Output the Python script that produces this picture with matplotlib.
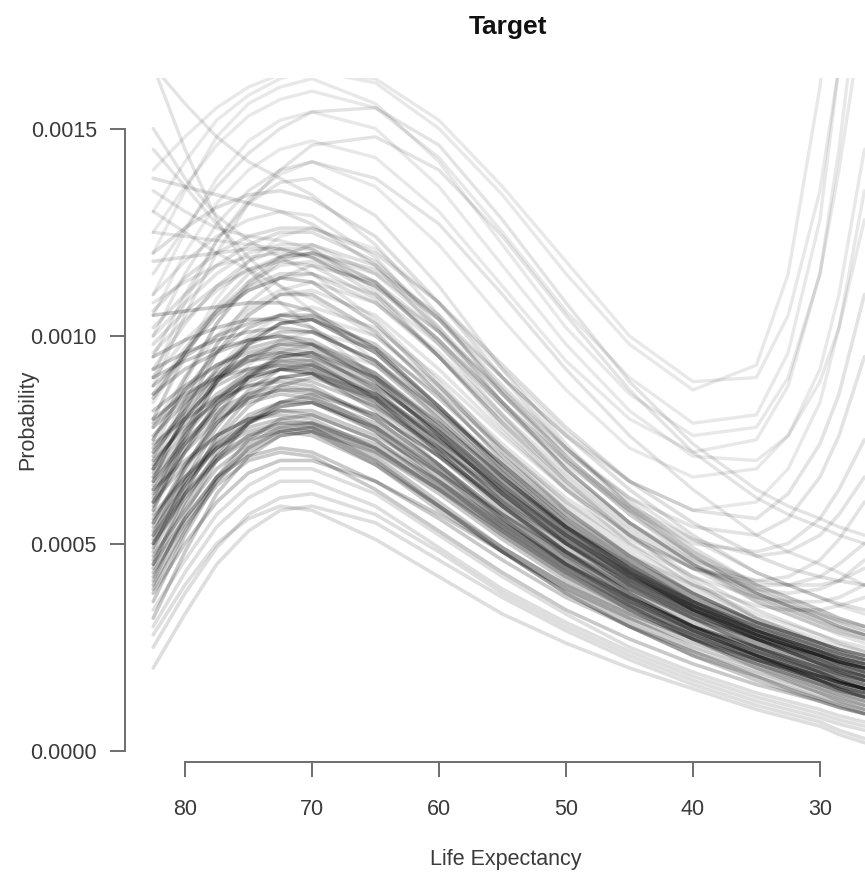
import matplotlib
matplotlib.use("Agg")
import matplotlib.pyplot as plt
import numpy as np

# ---------------- data ----------------
# life-expectancy nodes at which each curve was read
life_exp = [82.5, 80, 77.5, 75, 72.5, 70, 65, 60, 55, 50, 45, 40, 35, 32.5, 30, 28.5, 26.5]

# probability values, in units of 1e-4
core_curves = [
    [4.2, 5.6, 6.6, 7.1, 7.3, 7.2, 6.5, 5.6, 4.6, 3.7, 3.0, 2.4, 1.9, 1.65, 1.4, 1.25, 1.1],
    [5.0, 6.2, 7.1, 7.6, 7.8, 7.7, 6.9, 5.8, 4.8, 3.9, 3.2, 2.6, 2.1, 1.85, 1.6, 1.45, 1.3],
    [3.6, 5.2, 6.5, 7.3, 7.7, 7.8, 7.1, 6.0, 4.9, 4.0, 3.2, 2.5, 2.0, 1.75, 1.5, 1.35, 1.2],
    [6.0, 6.9, 7.6, 8.0, 8.1, 8.0, 7.3, 6.3, 5.2, 4.2, 3.4, 2.8, 2.3, 2.05, 1.8, 1.65, 1.5],
    [4.8, 6.3, 7.4, 8.1, 8.4, 8.4, 7.7, 6.6, 5.4, 4.4, 3.5, 2.8, 2.2, 1.95, 1.7, 1.55, 1.4],
    [5.5, 6.9, 7.9, 8.5, 8.7, 8.6, 7.8, 6.7, 5.5, 4.5, 3.7, 3.0, 2.4, 2.15, 1.9, 1.7, 1.5],
    [7.0, 7.8, 8.4, 8.8, 8.9, 8.8, 8.0, 6.9, 5.7, 4.6, 3.7, 3.0, 2.5, 2.25, 2.0, 1.85, 1.7],
    [4.5, 6.2, 7.6, 8.5, 9.0, 9.1, 8.4, 7.2, 5.9, 4.8, 3.9, 3.1, 2.5, 2.25, 2.0, 1.8, 1.6],
    [6.3, 7.4, 8.3, 8.9, 9.2, 9.2, 8.5, 7.3, 6.0, 4.9, 4.0, 3.3, 2.7, 2.4, 2.1, 1.95, 1.8],
    [8.0, 8.6, 9.0, 9.2, 9.3, 9.2, 8.4, 7.2, 5.9, 4.8, 3.9, 3.2, 2.6, 2.35, 2.1, 1.95, 1.8],
    [5.2, 6.8, 8.1, 9.0, 9.5, 9.6, 8.9, 7.6, 6.2, 5.0, 4.1, 3.3, 2.6, 2.3, 2.0, 1.8, 1.6],
    [6.8, 8.0, 8.9, 9.5, 9.8, 9.8, 9.0, 7.7, 6.3, 5.1, 4.1, 3.3, 2.7, 2.45, 2.2, 2.05, 1.9],
    [9.0, 9.4, 9.7, 9.9, 10.0, 9.9, 9.1, 7.8, 6.4, 5.2, 4.2, 3.4, 2.8, 2.55, 2.3, 2.15, 2.0],
    [5.8, 7.5, 8.9, 9.8, 10.3, 10.4, 9.6, 8.2, 6.7, 5.4, 4.4, 3.5, 2.8, 2.5, 2.2, 2.0, 1.8],
    [7.5, 8.7, 9.6, 10.2, 10.5, 10.5, 9.7, 8.3, 6.8, 5.5, 4.5, 3.6, 2.9, 2.65, 2.4, 2.2, 2.0],
    [10.5, 10.6, 10.7, 10.8, 10.8, 10.6, 9.7, 8.3, 6.8, 5.5, 4.4, 3.5, 2.9, 2.65, 2.4, 2.25, 2.1],
    [6.5, 8.2, 9.6, 10.5, 11.0, 11.0, 10.1, 8.6, 7.0, 5.7, 4.6, 3.7, 3.0, 2.7, 2.4, 2.2, 2.0],
    [8.5, 9.6, 10.5, 11.1, 11.4, 11.3, 10.3, 8.8, 7.2, 5.8, 4.7, 3.8, 3.1, 2.85, 2.6, 2.45, 2.3],
    [4.0, 5.4, 6.4, 7.0, 7.2, 7.1, 6.3, 5.3, 4.3, 3.4, 2.7, 2.1, 1.6, 1.4, 1.2, 1.05, 0.9],
    [5.4, 6.5, 7.3, 7.8, 8.0, 7.9, 7.2, 6.2, 5.1, 4.1, 3.3, 2.7, 2.2, 1.95, 1.7, 1.55, 1.4],
    [3.2, 4.8, 6.2, 7.1, 7.6, 7.7, 7.0, 5.9, 4.8, 3.8, 3.0, 2.3, 1.8, 1.55, 1.3, 1.15, 1.0],
    [6.6, 7.5, 8.2, 8.6, 8.8, 8.7, 8.0, 6.9, 5.7, 4.7, 3.9, 3.2, 2.7, 2.5, 2.3, 2.15, 2.0],
    [4.6, 6.0, 7.2, 8.0, 8.4, 8.5, 7.9, 6.8, 5.6, 4.5, 3.6, 2.9, 2.3, 2.05, 1.8, 1.65, 1.5],
    [7.3, 8.2, 9.0, 9.5, 9.7, 9.6, 8.7, 7.4, 6.0, 4.8, 3.8, 3.0, 2.4, 2.15, 1.9, 1.7, 1.5],
    [5.9, 7.2, 8.3, 9.0, 9.4, 9.4, 8.7, 7.5, 6.2, 5.1, 4.2, 3.5, 2.9, 2.65, 2.4, 2.25, 2.1],
    [8.2, 8.8, 9.3, 9.6, 9.8, 9.7, 9.0, 7.8, 6.5, 5.3, 4.3, 3.5, 2.8, 2.55, 2.3, 2.1, 1.9],
    [4.9, 6.5, 7.8, 8.7, 9.2, 9.3, 8.6, 7.4, 6.1, 5.0, 4.0, 3.2, 2.5, 2.2, 1.9, 1.7, 1.5],
    [6.2, 7.2, 8.0, 8.4, 8.6, 8.5, 7.7, 6.5, 5.3, 4.3, 3.5, 2.8, 2.2, 1.95, 1.7, 1.5, 1.3],
    [5.6, 6.6, 7.4, 7.9, 8.2, 8.2, 7.6, 6.7, 5.7, 4.8, 4.0, 3.3, 2.7, 2.45, 2.2, 2.0, 1.8],
    [7.8, 8.5, 9.1, 9.5, 9.6, 9.5, 8.8, 7.7, 6.4, 5.2, 4.2, 3.4, 2.8, 2.55, 2.3, 2.15, 2.0],
    [6.9, 7.9, 8.6, 9.1, 9.3, 9.3, 8.6, 7.5, 6.3, 5.2, 4.3, 3.6, 3.0, 2.75, 2.5, 2.35, 2.2],
    [5.3, 6.4, 7.3, 7.9, 8.3, 8.4, 7.8, 6.8, 5.6, 4.6, 3.7, 3.0, 2.4, 2.15, 1.9, 1.75, 1.6],
    [7.6, 8.4, 9.0, 9.4, 9.5, 9.4, 8.5, 7.2, 5.9, 4.7, 3.7, 2.9, 2.3, 2.0, 1.7, 1.55, 1.4],
    [4.4, 5.9, 7.1, 7.9, 8.3, 8.4, 7.8, 6.7, 5.5, 4.5, 3.7, 3.0, 2.5, 2.25, 2.0, 1.85, 1.7],
    [9.5, 9.9, 10.2, 10.4, 10.4, 10.2, 9.3, 8.0, 6.6, 5.3, 4.3, 3.4, 2.7, 2.4, 2.1, 1.9, 1.7],
    [6.1, 7.7, 9.0, 9.9, 10.3, 10.4, 9.8, 8.5, 7.1, 5.8, 4.7, 3.8, 3.1, 2.8, 2.5, 2.3, 2.1],
    [3.8, 5.0, 6.0, 6.7, 7.0, 7.0, 6.5, 5.7, 4.8, 3.9, 3.1, 2.4, 1.8, 1.5, 1.25, 1.1, 0.9],
    [5.7, 6.6, 7.3, 7.7, 7.9, 7.8, 7.0, 5.9, 4.8, 3.8, 3.0, 2.3, 1.7, 1.45, 1.2, 1.05, 0.9],
    [6.4, 7.6, 8.5, 9.0, 9.2, 9.1, 8.2, 6.9, 5.6, 4.5, 3.6, 2.9, 2.3, 2.05, 1.8, 1.65, 1.5],
    [4.1, 5.7, 7.0, 7.9, 8.4, 8.6, 8.1, 7.1, 5.9, 4.8, 3.8, 3.0, 2.3, 2.0, 1.7, 1.5, 1.3],
    [7.2, 8.1, 8.8, 9.2, 9.4, 9.3, 8.5, 7.3, 6.1, 5.0, 4.1, 3.4, 2.8, 2.55, 2.3, 2.15, 2.0],
    [5.1, 6.4, 7.5, 8.3, 8.8, 9.0, 8.5, 7.5, 6.3, 5.2, 4.2, 3.4, 2.7, 2.4, 2.1, 1.9, 1.7],
    [8.6, 9.2, 9.6, 9.9, 10.0, 9.8, 8.9, 7.6, 6.2, 5.0, 4.0, 3.2, 2.5, 2.2, 1.9, 1.7, 1.5],
    [6.0, 7.3, 8.4, 9.1, 9.5, 9.6, 9.0, 7.9, 6.6, 5.4, 4.4, 3.6, 3.0, 2.75, 2.5, 2.35, 2.2],
    [4.3, 5.5, 6.5, 7.2, 7.6, 7.7, 7.2, 6.3, 5.3, 4.3, 3.5, 2.8, 2.2, 1.9, 1.6, 1.4, 1.2],
    [6.7, 7.7, 8.5, 9.0, 9.2, 9.1, 8.3, 7.1, 5.8, 4.7, 3.8, 3.0, 2.4, 2.1, 1.8, 1.6, 1.4],
    [5.5, 6.8, 7.9, 8.6, 9.0, 9.1, 8.6, 7.6, 6.4, 5.3, 4.3, 3.5, 2.8, 2.5, 2.2, 2.0, 1.8],
    [7.9, 8.7, 9.3, 9.7, 9.9, 9.8, 9.1, 7.9, 6.6, 5.4, 4.4, 3.6, 2.9, 2.6, 2.3, 2.1, 1.9],
    [3.9, 5.3, 6.6, 7.5, 8.0, 8.1, 7.5, 6.4, 5.3, 4.3, 3.4, 2.7, 2.1, 1.8, 1.5, 1.3, 1.1],
    [6.5, 7.4, 8.1, 8.5, 8.7, 8.7, 8.1, 7.1, 6.0, 5.0, 4.1, 3.4, 2.8, 2.55, 2.3, 2.15, 2.0],
    [9.2, 9.6, 9.9, 10.1, 10.2, 10.1, 9.4, 8.2, 6.9, 5.6, 4.5, 3.6, 2.9, 2.6, 2.3, 2.1, 1.9],
    [5.0, 6.1, 7.0, 7.6, 7.9, 7.9, 7.3, 6.3, 5.2, 4.2, 3.4, 2.7, 2.1, 1.85, 1.6, 1.45, 1.3],
    [7.1, 8.3, 9.2, 9.8, 10.1, 10.1, 9.4, 8.1, 6.7, 5.4, 4.3, 3.4, 2.7, 2.4, 2.1, 1.9, 1.7],
    [4.7, 5.8, 6.8, 7.4, 7.8, 7.9, 7.4, 6.5, 5.5, 4.5, 3.6, 2.9, 2.3, 2.05, 1.8, 1.65, 1.5],
    [6.3, 7.0, 7.6, 8.0, 8.2, 8.1, 7.5, 6.5, 5.4, 4.4, 3.6, 2.9, 2.3, 2.0, 1.7, 1.5, 1.3],
    [8.8, 9.5, 10.0, 10.3, 10.5, 10.4, 9.6, 8.3, 6.9, 5.6, 4.6, 3.8, 3.1, 2.85, 2.6, 2.45, 2.3],
    [5.2, 6.2, 7.0, 7.5, 7.7, 7.6, 6.9, 5.9, 4.9, 4.0, 3.3, 2.7, 2.2, 2.0, 1.8, 1.65, 1.5],
    [7.4, 8.0, 8.5, 8.8, 9.0, 8.9, 8.3, 7.3, 6.2, 5.1, 4.2, 3.5, 2.9, 2.65, 2.4, 2.25, 2.1],
    [4.5, 5.6, 6.6, 7.3, 7.7, 7.8, 7.3, 6.4, 5.4, 4.4, 3.5, 2.7, 2.0, 1.7, 1.4, 1.2, 1.0],
    [6.8, 8.0, 8.9, 9.4, 9.6, 9.5, 8.8, 7.7, 6.5, 5.4, 4.5, 3.7, 3.1, 2.85, 2.6, 2.45, 2.3],
]

mid_curves = [
    [8.0, 9.5, 10.7, 11.5, 11.9, 12.0, 11.3, 9.9, 8.3, 6.8, 5.5, 4.5, 3.7, 3.4, 3.1, 2.95, 2.8],
    [9.8, 10.6, 11.2, 11.6, 11.8, 11.7, 10.9, 9.5, 7.9, 6.4, 5.2, 4.2, 3.4, 3.1, 2.8, 2.6, 2.4],
    [7.2, 8.9, 10.3, 11.3, 11.9, 12.2, 11.7, 10.4, 8.8, 7.3, 6.0, 4.9, 4.0, 3.7, 3.4, 3.2, 3.0],
    [11.8, 11.9, 12.0, 12.1, 12.1, 11.9, 11.0, 9.5, 7.9, 6.5, 5.3, 4.4, 3.6, 3.3, 3.0, 2.85, 2.7],
    [6.8, 8.4, 9.8, 10.8, 11.4, 11.7, 11.3, 10.1, 8.6, 7.1, 5.8, 4.7, 3.8, 3.5, 3.2, 3.0, 2.8],
    [10.2, 11.0, 11.7, 12.2, 12.5, 12.5, 11.8, 10.4, 8.7, 7.1, 5.8, 4.7, 3.8, 3.5, 3.2, 3.0, 2.8],
    [8.6, 9.7, 10.6, 11.2, 11.5, 11.5, 10.8, 9.5, 8.0, 6.6, 5.4, 4.5, 3.8, 3.5, 3.3, 3.15, 3.0],
    [12.0, 12.6, 13.1, 13.4, 13.5, 13.3, 12.4, 10.8, 9.0, 7.3, 5.9, 4.8, 4.0, 3.7, 3.4, 3.2, 3.0],
    [7.5, 9.0, 10.3, 11.2, 11.8, 12.0, 11.6, 10.5, 9.0, 7.6, 6.3, 5.2, 4.3, 4.0, 3.7, 3.55, 3.4],
    [9.2, 10.3, 11.2, 11.8, 12.1, 12.1, 11.3, 9.8, 8.1, 6.5, 5.2, 4.1, 3.2, 2.9, 2.6, 2.4, 2.2],
    [13.8, 13.6, 13.4, 13.2, 13.0, 12.7, 11.7, 10.1, 8.4, 6.8, 5.5, 4.5, 3.7, 3.4, 3.1, 2.9, 2.7],
    [10.6, 11.4, 12.0, 12.4, 12.6, 12.6, 12.0, 10.8, 9.3, 7.8, 6.5, 5.5, 4.7, 4.4, 4.2, 4.1, 4.0],
]

lower_curves = [
    [2.0, 3.3, 4.5, 5.3, 5.8, 5.9, 5.5, 4.6, 3.7, 2.9, 2.2, 1.6, 1.1, 0.9, 0.7, 0.5, 0.3],
    [2.5, 3.8, 4.9, 5.7, 6.1, 6.2, 5.7, 4.8, 3.8, 3.0, 2.3, 1.7, 1.2, 1.0, 0.8, 0.65, 0.5],
    [3.0, 4.3, 5.4, 6.1, 6.5, 6.5, 5.9, 4.9, 3.9, 3.1, 2.4, 1.8, 1.3, 1.1, 0.9, 0.75, 0.6],
    [2.8, 4.0, 5.0, 5.6, 5.9, 5.8, 5.1, 4.2, 3.3, 2.6, 2.0, 1.5, 1.0, 0.8, 0.6, 0.4, 0.2],
    [3.4, 4.6, 5.7, 6.4, 6.8, 6.8, 6.2, 5.2, 4.2, 3.3, 2.5, 1.9, 1.4, 1.2, 1.0, 0.85, 0.7],
]

upper_curves = [
    [16.5, 14.5, 12.8, 11.6, 10.8, 10.2, 9.0, 7.6, 6.3, 5.2, 4.3, 3.5, 2.9, 2.65, 2.4, 2.25, 2.1],
    [15.0, 13.8, 12.9, 12.3, 11.9, 11.5, 10.4, 8.9, 7.3, 5.9, 4.8, 3.9, 3.2, 2.95, 2.7, 2.55, 2.4],
    [13.5, 13.0, 12.6, 12.4, 12.3, 12.1, 11.1, 9.5, 7.8, 6.3, 5.0, 4.0, 3.2, 2.9, 2.6, 2.4, 2.2],
    [11.0, 11.8, 12.4, 12.8, 13.0, 12.9, 11.9, 10.2, 8.4, 6.8, 5.5, 4.5, 3.6, 3.3, 3.0, 2.8, 2.6],
    [9.5, 11.0, 12.3, 13.2, 13.7, 13.8, 12.9, 11.2, 9.2, 7.4, 5.9, 4.8, 3.9, 3.6, 3.3, 3.1, 2.9],
    [12.5, 12.4, 12.3, 12.2, 12.1, 11.9, 11.2, 10.1, 8.7, 7.3, 6.1, 5.1, 4.3, 4.0, 3.7, 3.5, 3.3],
    [16.5, 15.6, 14.8, 14.2, 13.8, 13.4, 12.2, 10.5, 8.6, 7.0, 5.7, 4.6, 3.8, 3.5, 3.2, 3.0, 2.8],
    [10.0, 11.5, 12.7, 13.5, 14.0, 14.2, 13.8, 12.7, 11.0, 9.2, 7.6, 6.3, 5.2, 4.8, 4.5, 4.3, 4.0],
    [8.8, 10.5, 12.0, 13.2, 14.0, 14.6, 14.8, 14.0, 12.4, 10.5, 8.7, 7.2, 6.1, 5.7, 5.4, 5.2, 5.0],
    [11.5, 12.6, 13.6, 14.4, 15.0, 15.4, 15.5, 14.6, 12.8, 10.8, 8.9, 7.4, 6.3, 5.9, 5.6, 5.4, 5.2],
    [13.0, 12.5, 12.0, 11.6, 11.2, 10.9, 10.0, 8.7, 7.3, 6.0, 4.9, 4.0, 3.3, 3.05, 2.8, 2.65, 2.5],
    [14.5, 13.6, 12.7, 11.9, 11.2, 10.6, 9.4, 8.0, 6.6, 5.4, 4.4, 3.6, 3.0, 2.75, 2.5, 2.35, 2.2],
    [10.8, 11.3, 11.7, 11.9, 12.0, 11.9, 11.2, 9.9, 8.4, 7.0, 5.7, 4.7, 3.9, 3.6, 3.3, 3.1, 2.9],
]

u_curves = [
    [12.0, 13.5, 14.8, 15.6, 16.0, 16.2, 15.6, 14.2, 12.2, 10.2, 8.6, 7.6, 7.8, 9.0, 11.5, 14.0, 18.0],
    [10.5, 12.0, 13.2, 14.0, 14.5, 14.7, 14.3, 13.0, 11.2, 9.4, 8.0, 7.2, 7.5, 8.8, 11.5, 14.5, 19.5],
    [13.0, 14.2, 15.2, 15.8, 16.2, 16.4, 16.1, 15.0, 13.4, 11.5, 9.8, 8.7, 9.3, 11.5, 16.0, 20.0, 26.0],
    [9.0, 10.8, 12.3, 13.3, 13.9, 14.2, 13.6, 12.2, 10.4, 8.7, 7.3, 6.6, 6.8, 7.6, 9.2, 11.0, 14.5],
    [11.0, 12.5, 13.8, 14.7, 15.2, 15.4, 15.0, 13.6, 11.7, 9.8, 8.2, 7.1, 7.0, 7.6, 8.9, 10.2, 12.8],
    [14.0, 14.8, 15.5, 16.0, 16.3, 16.4, 16.2, 15.2, 13.6, 11.8, 10.0, 8.9, 9.0, 10.5, 13.5, 16.5, 21.0],
    [8.0, 9.6, 10.9, 11.8, 12.4, 12.6, 12.1, 10.8, 9.2, 7.7, 6.5, 5.8, 6.0, 6.8, 8.4, 10.2, 13.5],
    [12.5, 13.6, 14.6, 15.3, 15.7, 15.9, 15.5, 14.3, 12.5, 10.6, 9.0, 7.9, 8.1, 9.6, 12.8, 16.5, 23.0],
]

right_fan_curves = [
    [7.0, 8.5, 9.8, 10.6, 11.0, 11.1, 10.5, 9.2, 7.7, 6.3, 5.2, 4.4, 4.0, 4.0, 4.2, 4.5, 5.0],
    [6.0, 7.6, 8.9, 9.8, 10.3, 10.5, 10.0, 8.8, 7.4, 6.1, 5.1, 4.4, 4.1, 4.2, 4.6, 5.1, 6.0],
    [9.0, 9.9, 10.6, 11.1, 11.4, 11.5, 11.0, 9.8, 8.3, 6.9, 5.8, 5.0, 4.8, 5.0, 5.6, 6.3, 7.5],
    [7.8, 9.0, 10.0, 10.7, 11.1, 11.3, 10.8, 9.6, 8.1, 6.7, 5.5, 4.6, 4.1, 4.0, 4.0, 4.1, 4.4],
    [5.0, 6.6, 8.0, 9.0, 9.6, 9.8, 9.3, 8.2, 6.9, 5.7, 4.7, 4.0, 3.5, 3.4, 3.4, 3.5, 3.7],
    [10.0, 10.8, 11.5, 12.0, 12.2, 12.2, 11.5, 10.2, 8.6, 7.2, 6.1, 5.4, 5.2, 5.6, 6.6, 7.6, 9.5],
    [8.4, 9.6, 10.6, 11.3, 11.7, 11.8, 11.2, 9.9, 8.4, 7.0, 5.9, 5.1, 4.7, 4.8, 5.2, 5.7, 6.6],
    [6.6, 8.0, 9.2, 10.0, 10.5, 10.7, 10.2, 9.0, 7.6, 6.3, 5.2, 4.4, 3.9, 3.8, 3.9, 4.1, 4.6],
    [9.6, 10.4, 11.1, 11.6, 11.9, 12.0, 11.5, 10.4, 9.0, 7.6, 6.5, 5.8, 5.6, 6.2, 7.4, 8.6, 11.0],
    [5.8, 7.2, 8.4, 9.3, 9.9, 10.1, 9.7, 8.6, 7.3, 6.0, 5.0, 4.2, 3.7, 3.6, 3.6, 3.7, 4.0],
]

UNIT = 1e-4  # values above are in units of 1e-4

x_ticks = [80, 70, 60, 50, 40, 30]
x_tick_labels = ["80", "70", "60", "50", "40", "30"]
y_ticks = [0.0, 0.0005, 0.0010, 0.0015]
y_tick_labels = ["0.0000", "0.0005", "0.0010", "0.0015"]

title = "Target"
x_label = "Life Expectancy"
y_label = "Probability"

# ---------------- figure ----------------
plt.rcParams["font.family"] = ["Liberation Sans", "DejaVu Sans"]

W, H = 865, 875
fig = plt.figure(figsize=(W / 100, H / 100), dpi=100)

# axes box in pixel coordinates; right edge lies beyond the figure border,
# as in the reference where the plot is cut off
px_l, px_r, px_t, px_b = 125, 887, 78, 762
ax = fig.add_axes([px_l / W, 1 - px_b / H, (px_r - px_l) / W, (px_b - px_t) / H])

ax.set_xlim(84.72, 24.72)
ax.set_ylim(-0.0000265, 0.0016217)

x_arr = np.array(life_exp)
groups = [
    (upper_curves, 0.11, 2.4),
    (u_curves, 0.09, 2.4),
    (right_fan_curves, 0.11, 2.6),
    (mid_curves, 0.13, 2.6),
    (lower_curves, 0.13, 2.6),
    (core_curves, 0.21, 2.6),
]
for curves, alpha, lw in groups:
    for c in curves:
        ax.plot(x_arr, np.array(c) * UNIT, color="black", alpha=alpha, lw=lw,
                solid_capstyle="round", solid_joinstyle="round")

# R-style axes
for s in ["top", "right"]:
    ax.spines[s].set_visible(False)
axis_col = "#6e6e6e"
ax.spines["left"].set_bounds(0, 0.0015)
ax.spines["bottom"].set_bounds(30, 80)
for s in ["left", "bottom"]:
    ax.spines[s].set_color(axis_col)
    ax.spines[s].set_linewidth(1.4)

ax.set_xticks(x_ticks)
ax.set_xticklabels(x_tick_labels)
ax.set_yticks(y_ticks)
ax.set_yticklabels(y_tick_labels)
ax.tick_params(axis="both", direction="out", length=10.8, width=1.4,
               color=axis_col, labelcolor="#3a3a3a", labelsize=15.5)
ax.tick_params(axis="y", pad=9.4)
ax.tick_params(axis="x", pad=16)

ax.set_xlabel(x_label, fontsize=15.5, color="#3a3a3a")
ax.set_ylabel(y_label, fontsize=15.5, color="#3a3a3a")
ax.xaxis.set_label_coords(0.5, (px_b - 860) / (px_b - px_t))
ax.xaxis.label.set_va("center")
ax.yaxis.set_label_coords((28 - px_l) / (px_r - px_l), 0.5)
ax.yaxis.label.set_va("center")
ax.yaxis.label.set_ha("center")

fig.text(508 / W, 1 - 27 / H, title, ha="center", va="center",
         fontsize=19, fontweight="bold", color="#111111")

fig.savefig("out.png", dpi=100)
